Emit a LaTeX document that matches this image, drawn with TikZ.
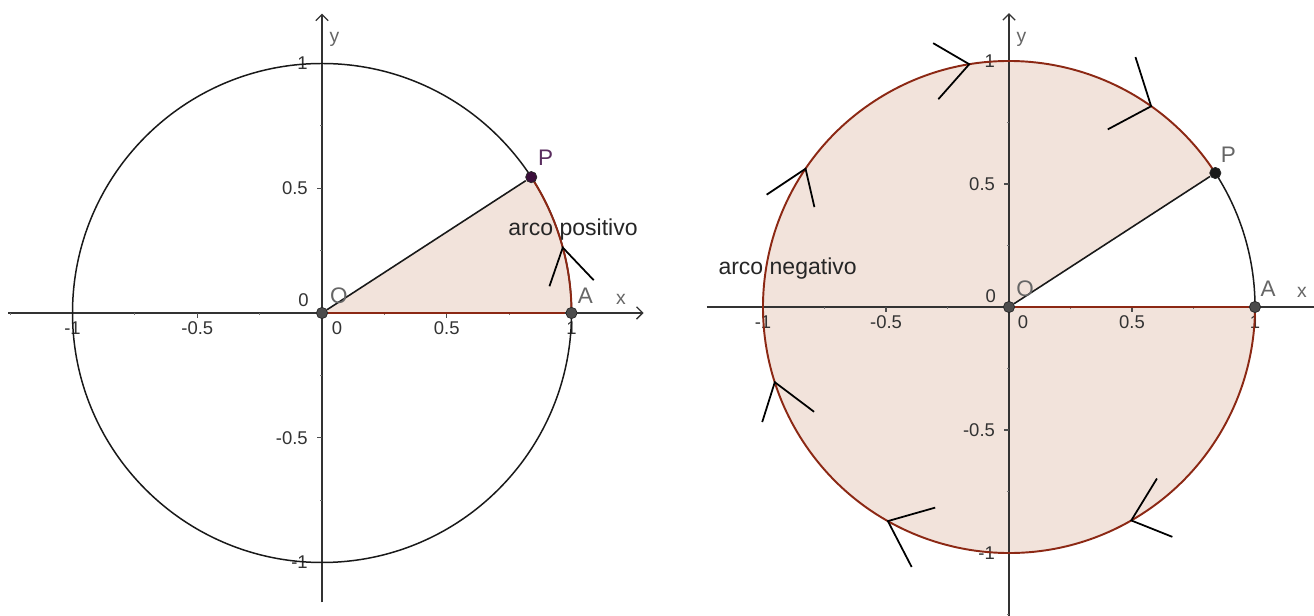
\documentclass[tikz,border=0pt]{standalone}
\usepackage{fontspec}
\setmainfont{Liberation Sans}
\usetikzlibrary{arrows.meta}
\definecolor{ggfill}{RGB}{242,227,219}
\definecolor{ggbrown}{RGB}{140,40,20}
\definecolor{ggpurple}{RGB}{60,15,60}
\definecolor{gglabel}{RGB}{90,45,95}

\begin{document}
\begin{tikzpicture}[
  x=0.02cm, y=0.02cm,
  axis/.style   ={draw=black!80, line width=0.75pt,
                  -{Straight Barb[length=3.5pt, width=7pt]}},
  majtick/.style={draw=black!70, line width=0.6pt},
  mintick/.style={draw=black!55, line width=0.5pt},
  unitc/.style  ={draw=black!90, line width=0.85pt},
  arcb/.style   ={draw=ggbrown, line width=1.1pt},
  seg/.style    ={draw=black!90, line width=0.9pt},
  chev/.style   ={draw=black, line width=1pt},
  pt/.style     ={circle, draw=black!85, fill=black!70, line width=0.4pt,
                  inner sep=0pt, minimum size=6.4pt},
  tlbl/.style   ={font=\fontsize{10.5}{12}\selectfont, text=black!80,
                  inner sep=0pt},
  plbl/.style   ={font=\fontsize{12.8}{14}\selectfont, text=black!60,
                  inner sep=0pt, anchor=base},
  albl/.style   ={font=\fontsize{11}{13}\selectfont, text=black!60,
                  inner sep=0pt, anchor=base},
  arco/.style   ={font=\fontsize{13.1}{15}\selectfont, text=black!85,
                  inner sep=0pt, anchor=base},
]
\path[use as bounding box, fill=white] (0,0) rectangle (1314,615);

% left: positive arc
\begin{scope}[shift={(322,302)}, scale=249.5]
  \fill[ggfill] (0,0) -- (0:1) arc[start angle=0, end angle=33, radius=1] -- cycle;
  \draw[axis] (-1.258,0) -- (1.289,0);
  \draw[axis] (0,-1.16) -- (0,1.2);
  \foreach \t in {-1,-0.5,0.5,1} {
    \draw[majtick] (\t,0) -- (\t,-0.02);
    \draw[majtick] (0,\t) -- (-0.02,\t);
  }
  \foreach \t in {-1.25,-0.75,-0.25,0.25,0.75} \draw[mintick] (\t,0) -- (\t,-0.01);
  \foreach \t in {-0.75,-0.25,0.25,0.75} \draw[mintick] (0,\t) -- (-0.01,\t);
  \foreach \t/\s [count=\i] in {-1/-1,-0.5/-0.5,0.5/0.5,1/1} {
    \node[tlbl, anchor=north] (lx\i) at (\t,-0.035) {\s};
    \node[tlbl, anchor=east]  (ly\i) at (-0.056,\t) {\s};
  }
  \node[tlbl, anchor=north] (lx0) at (0.06,-0.035) {0};
  \node[tlbl, anchor=east]  (ly0) at (-0.052,0.052) {0};
  \node[albl] (xname1) at (1.198,0.036) {x};
  \node[albl] (yname1) at (0.05,1.086) {y};

  \draw[unitc] (0,0) circle[radius=1];
  \draw[arcb] (0:1) arc[start angle=0, end angle=33, radius=1];
  \draw[chev] ([shift={(251:0.164)}]15.2:1) -- (15.2:1) -- ++(313.5:0.18);

  \node[pt] (O1) at (0,0) {};
  \node[pt] (A1) at (1,0) {};
  \node[pt, fill=ggpurple] (P1) at (33:1) {};
  \draw[arcb] (O1) -- (A1);
  \draw[seg] (O1) -- (P1);

  \node[plbl] (O1lbl) at (0.068,0.04) {O};
  \node[plbl] (A1lbl) at (1.056,0.04) {A};
  \node[plbl, text=gglabel] (P1lbl) at (0.896,0.593) {P};
  \node[arco] (pos) at (1.006,0.309) {arco positivo};
\end{scope}

% right: negative arc
\begin{scope}[shift={(1009,308)}, scale=246]
  \fill[ggfill] (0,0) -- (33:1) arc[start angle=33, end angle=360, radius=1] -- cycle;
  \draw[axis, -] (-1.228,0) -- (1.24,0);
  \draw[axis] (0,-1.26) -- (0,1.195);
  \foreach \t in {-1,-0.5,0.5,1} {
    \draw[majtick] (\t,0) -- (\t,-0.02);
    \draw[majtick] (0,\t) -- (-0.02,\t);
  }
  \foreach \t in {-0.75,-0.25,0.25,0.75} \draw[mintick] (\t,0) -- (\t,-0.01);
  \foreach \t in {-1.25,-0.75,-0.25,0.25,0.75} \draw[mintick] (0,\t) -- (-0.01,\t);
  \foreach \t/\s [count=\i] in {-1/-1,-0.5/-0.5,0.5/0.5,1/1} {
    \node[tlbl, anchor=north] (rx\i) at (\t,-0.035) {\s};
    \node[tlbl, anchor=east]  (ry\i) at (-0.056,\t) {\s};
  }
  \node[tlbl, anchor=north] (rx0) at (0.057,-0.035) {0};
  \node[tlbl, anchor=east]  (ry0) at (-0.052,0.045) {0};
  \node[albl] (xname2) at (1.191,0.037) {x};
  \node[albl] (yname2) at (0.051,1.077) {y};

  \draw[unitc] (0:1) arc[start angle=0, end angle=33, radius=1];
  \draw[arcb] (33:1) arc[start angle=33, end angle=360, radius=1];
  \foreach \a/\b/\p/\c/\q in {99.3/149.7/0.17/228.5/0.19,
                              54.7/107.7/0.21/208.1/0.20,
                              145.8/213.7/0.19/283/0.16,
                              197.8/252.5/0.17/323/0.20,
                              240.5/15.9/0.20/297.4/0.21,
                              299.8/58.5/0.20/338.2/0.18}
    \draw[chev] ([shift={(\b:\p)}]\a:1) -- (\a:1) -- ++(\c:\q);

  \node[pt] (O2) at (0,0) {};
  \node[pt] (A2) at (1,0) {};
  \node[pt, fill=black!90] (P2) at (33:1) {};
  \draw[arcb] (O2) -- (A2);
  \draw[seg] (O2) -- (P2);

  \node[plbl] (O2lbl) at (0.065,0.041) {O};
  \node[plbl] (A2lbl) at (1.053,0.041) {A};
  \node[plbl] (P2lbl) at (0.892,0.589) {P};
  \node[arco] (neg) at (-0.9,0.134) {arco negativo};
\end{scope}
\end{tikzpicture}
\end{document}
